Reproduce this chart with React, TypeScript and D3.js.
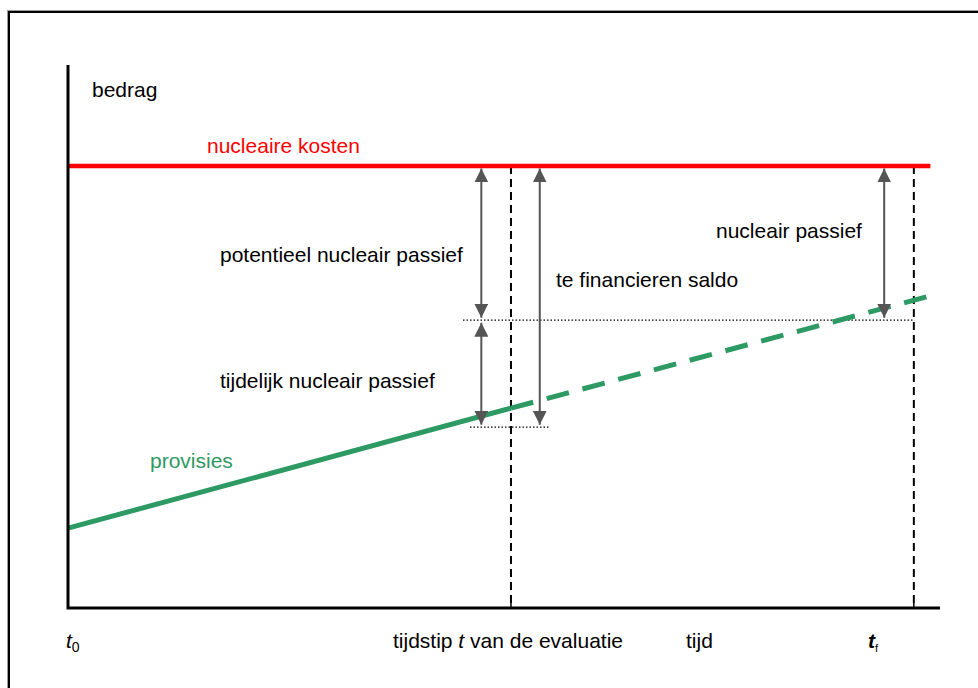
import React from 'react';
import * as d3 from 'd3';

// time positions (0..100 along the time axis)
const T0 = 0;
const T_EVAL = 50.8;
const T_F = 97;
const T_END = 98.9;

// amounts (0..100 along the amount axis)
const nuclearCost = 81.4;
const provisionsSolid: [number, number][] = [
  [0, 14.7],
  [50.8, 36.8],
];
const provisionsDashed: [number, number][] = [
  [50.8, 36.8],
  [98.9, 57.5],
];
const levelUpper = 53;
const levelLower = 33.3;

// dotted reference levels [y, xStart, xEnd]
const dottedLevels: [number, number, number][] = [
  [levelUpper, 45.3, 97.1],
  [levelLower, 46.1, 55.3],
];

// double-headed arrows [x, yTop, yBottom]
const arrows: [number, number, number][] = [
  [47.4, nuclearCost, levelUpper],
  [47.4, levelUpper, levelLower],
  [54.1, nuclearCost, levelLower],
  [93.6, nuclearCost, levelUpper],
];

const W = 978;
const H = 688;
const margin = {left: 68, right: 38, top: 65, bottom: 80};

const App = () => {
  const x = d3.scaleLinear().domain([0, 100]).range([margin.left, W - margin.right]);
  const y = d3.scaleLinear().domain([0, 100]).range([H - margin.bottom, margin.top]);
  const line = d3
    .line<[number, number]>()
    .x(d => x(d[0]))
    .y(d => y(d[1]));

  const font = 'Liberation Sans, Arial, sans-serif';
  const fs = 21;
  const green = '#2e9a63';
  const arrowColor = '#555';

  return (
    <svg
      width={W}
      height={H}
      style={{position: 'absolute', left: 0, top: 0}}
      fontFamily={font}
    >
      <defs>
        <marker
          id="head"
          viewBox="0 0 10 10"
          refX="10"
          refY="5"
          markerWidth="7"
          markerHeight="7"
          markerUnits="strokeWidth"
          orient="auto-start-reverse"
        >
          <path d="M0,0 L10,5 L0,10 z" fill={arrowColor} />
        </marker>
      </defs>
      <rect x={0} y={0} width={W} height={H} fill="#fff" />
      {/* frame */}
      <rect x={7.5} y={10.5} width={W + 20} height={H + 20} fill="none" stroke="#999" strokeWidth={1} />
      <rect x={9} y={12} width={W + 20} height={H + 20} fill="none" stroke="#000" strokeWidth={2} />

      {/* vertical dashed lines */}
      {[T_EVAL, T_F].map(t => (
        <line
          key={t}
          x1={x(t)}
          x2={x(t)}
          y1={y(nuclearCost)}
          y2={y(0)}
          stroke="#000"
          strokeWidth={2}
          strokeDasharray="8,5"
        />
      ))}

      {/* dotted levels */}
      {dottedLevels.map(([lv, a, b], i) => (
        <line
          key={i}
          x1={x(a)}
          x2={x(b)}
          y1={y(lv)}
          y2={y(lv)}
          stroke="#000"
          strokeWidth={1.2}
          strokeDasharray="1.5,2"
        />
      ))}

      {/* provisions */}
      <path d={line(provisionsSolid) ?? ''} fill="none" stroke={green} strokeWidth={5} />
      <path
        d={line(provisionsDashed) ?? ''}
        fill="none"
        stroke={green}
        strokeWidth={5}
        strokeDasharray="23,14"
      />

      {/* nuclear cost */}
      <line
        x1={x(T0)}
        x2={x(T_END)}
        y1={y(nuclearCost)}
        y2={y(nuclearCost)}
        stroke="#ff0000"
        strokeWidth={4.5}
      />

      {/* arrows */}
      {arrows.map(([ax, a, b], i) => (
        <line
          key={i}
          x1={x(ax)}
          x2={x(ax)}
          y1={y(a) + 2.5}
          y2={y(b) - 2.5}
          stroke={arrowColor}
          strokeWidth={2}
          markerStart="url(#head)"
          markerEnd="url(#head)"
        />
      ))}

      {/* axes */}
      <path
        d={`M${x(0)},${y(100)} V${y(0)} H${W - 38}`}
        fill="none"
        stroke="#000"
        strokeWidth={3}
      />
      {[T_EVAL, T_F].map(t => (
        <line key={'tk' + t} x1={x(t)} x2={x(t)} y1={y(0) - 5} y2={y(0)} stroke="#000" strokeWidth={1.5} />
      ))}

      {/* labels */}
      <g fontSize={fs} fill="#000">
        <text x={92} y={97}>bedrag</text>
        <text x={207} y={153} fill="#ff0000">nucleaire kosten</text>
        <text x={220} y={262}>potentieel nucleair passief</text>
        <text x={556} y={287}>te financieren saldo</text>
        <text x={716} y={238}>nucleair passief</text>
        <text x={220} y={388}>tijdelijk nucleair passief</text>
        <text x={150} y={468} fill={green}>provisies</text>
        <text x={66} y={648}>
          <tspan fontStyle="italic">t</tspan>
          <tspan fontSize={14} dy={4}>0</tspan>
        </text>
        <text x={393} y={648}>
          tijdstip <tspan fontStyle="italic">t</tspan> van de evaluatie
        </text>
        <text x={686} y={648}>tijd</text>
        <text x={868} y={648}>
          <tspan fontStyle="italic" fontWeight="bold">t</tspan>
          <tspan fontSize={11} dy={4}>f</tspan>
        </text>
      </g>
    </svg>
  );
};

export default App;
